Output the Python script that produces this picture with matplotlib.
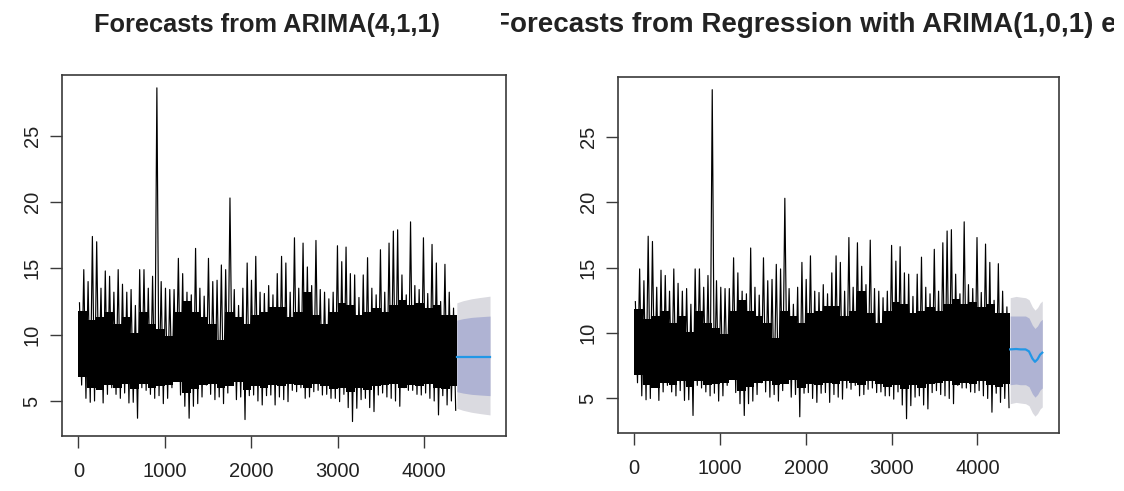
import numpy as np
import matplotlib
matplotlib.use("Agg")
import matplotlib.pyplot as plt
from matplotlib.transforms import Bbox, TransformedBbox

plt.rcParams["font.family"] = ["Liberation Sans", "DejaVu Sans"]

W, H = 1124, 491

# observed series (4380 obs), read off the picture as the highest / lowest
# value inside each block of ~50 observations
n_obs = 4380
bin_hi = [12.4, 14.9, 14.0, 17.4, 17.0, 13.5, 14.8, 14.4, 13.2, 14.9,
          13.8, 13.2, 13.4, 12.2, 14.9, 14.9, 13.5, 14.4, 28.6, 14.0,
          13.5, 13.4, 13.4, 15.75, 14.6, 13.2, 13.0, 16.5, 13.5, 12.9,
          15.75, 14.0, 14.1, 15.25, 14.9, 20.3, 13.4, 12.2, 13.5, 15.4,
          14.1, 15.9, 13.2, 13.1, 13.7, 13.0, 14.6, 15.9, 15.4, 13.2,
          17.3, 13.5, 16.9, 15.1, 13.7, 17.1, 13.4, 13.2, 12.7, 13.2,
          16.7, 15.5, 16.6, 14.6, 14.5, 12.8, 14.5, 15.8, 13.5, 13.0,
          16.4, 13.2, 16.9, 17.8, 17.9, 14.5, 13.0, 18.5, 13.7, 13.4,
          17.3, 13.1, 16.8, 15.4, 12.5, 15.3, 13.2, 12.0]
bin_lo = [6.2, 5.2, 4.9, 5.0, 6.1, 4.85, 5.5, 6.0, 5.5, 5.2,
          5.6, 4.85, 4.9, 3.7, 6.0, 5.8, 5.5, 5.2, 5.4, 4.8,
          5.2, 6.0, 6.5, 5.45, 4.6, 3.7, 4.6, 4.8, 5.3, 6.2,
          5.5, 5.1, 5.3, 4.8, 5.6, 6.8, 5.1, 5.3, 3.6, 5.4,
          5.45, 5.0, 4.7, 5.4, 5.45, 4.7, 5.3, 5.1, 4.95, 5.8,
          5.7, 6.0, 5.2, 5.3, 5.7, 5.8, 5.45, 5.5, 5.2, 5.2,
          4.95, 5.5, 4.5, 3.45, 4.45, 5.1, 5.2, 4.5, 4.2, 5.45,
          5.6, 5.3, 5.2, 5.0, 4.6, 6.0, 5.8, 5.8, 5.5, 5.45,
          5.6, 5.2, 5.0, 3.95, 5.4, 4.7, 5.0, 4.3]

# solid black body of the series, per block of 100 observations
core_hi = [11.8, 11.1, 11.3, 11.7, 10.8, 11.3, 10.1, 11.7, 10.8, 10.4,
           9.9, 11.7, 12.5, 11.7, 11.3, 10.8, 9.6, 11.7, 11.3, 10.8,
           11.5, 11.7, 12.1, 12.1, 11.3, 11.7, 13.2, 11.5, 10.8, 11.7,
           12.4, 12.2, 11.5, 11.7, 12.0, 11.7, 12.2, 12.6, 12.2, 12.4,
           12.0, 12.2, 11.5, 11.5]
core_lo = [6.8, 6.0, 5.8, 6.2, 6.0, 6.3, 5.9, 6.3, 6.0, 6.1,
           6.2, 6.4, 5.6, 5.9, 6.2, 6.3, 6.0, 6.1, 6.4, 5.8,
           6.1, 6.0, 6.2, 6.1, 6.3, 6.2, 6.0, 6.3, 6.1, 5.9,
           6.0, 5.7, 6.0, 5.8, 6.1, 6.2, 6.3, 6.0, 6.2, 6.1,
           6.3, 6.0, 5.9, 6.1]

# Forecasts from ARIMA(4,1,1)
arima_t = [4381, 4450, 4550, 4650, 4765]
arima_mean = [8.35, 8.35, 8.35, 8.35, 8.35]
arima_lo80 = [5.7, 5.6, 5.5, 5.45, 5.4]
arima_hi80 = [11.1, 11.2, 11.3, 11.35, 11.4]
arima_lo95 = [4.45, 4.3, 4.15, 4.05, 3.95]
arima_hi95 = [12.4, 12.55, 12.7, 12.8, 12.9]

# Forecasts from regression with ARIMA(1,0,1) errors
reg_t = [4381, 4450, 4500, 4560, 4600, 4640, 4670, 4700, 4730, 4755]
reg_mean = [8.75, 8.78, 8.75, 8.75, 8.6, 8.05, 7.8, 8.0, 8.35, 8.5]
reg_lo80 = [6.05, 6.1, 6.05, 6.05, 5.9, 5.35, 5.1, 5.3, 5.65, 5.8]
reg_hi80 = [11.3, 11.3, 11.3, 11.3, 11.15, 10.6, 10.35, 10.55, 10.9, 11.05]
reg_lo95 = [4.6, 4.7, 4.65, 4.6, 4.45, 3.9, 3.65, 3.85, 4.2, 4.35]
reg_hi95 = [12.7, 12.8, 12.75, 12.7, 12.55, 12.0, 11.75, 11.95, 12.3, 12.45]

x_ticks = [0, 1000, 2000, 3000, 4000]
y_ticks = [5, 10, 15, 20, 25]

# zigzag through the block maxima / minima
nb = len(bin_hi)
w = n_obs / nb
zig_x = np.empty(2 * nb)
zig_y = np.empty(2 * nb)
zig_x[0::2] = np.arange(nb) * w + 0.25 * w
zig_x[1::2] = np.arange(nb) * w + 0.75 * w
zig_y[0::2] = bin_hi
zig_y[1::2] = bin_lo

# block edges for the body
core_x = np.append(np.arange(len(core_hi)) * 100, n_obs)
core_top = np.append(core_hi, core_hi[-1])
core_bot = np.append(core_lo, core_lo[-1])

fig = plt.figure(figsize=(W / 100, H / 100), dpi=100)
ax1 = fig.add_axes([62 / W, 1 - 436 / H, 444 / W, 361 / H])
ax2 = fig.add_axes([618 / W, 1 - 433 / H, 441 / W, 356 / H])

box_col = "#3a3a3a"


def draw_panel(ax, fc_t, mean, lo80, hi80, lo95, hi95):
    ax.fill_between(core_x, core_bot, core_top, step="post", color="black", lw=0)
    ax.plot(zig_x, zig_y, color="black", lw=0.85)
    ax.fill_between(fc_t, lo95, hi95, color="#DADAE0", lw=0)
    ax.fill_between(fc_t, lo80, hi80, color="#AFB3D3", lw=0)
    ax.plot(fc_t, mean, color="#2297E6", lw=1.6)
    ax.set_xlim(-190, 4950)
    ax.set_ylim(2.36, 29.57)
    ax.set_xticks(x_ticks)
    ax.set_yticks(y_ticks)
    ax.set_xticklabels([str(v) for v in x_ticks])
    ax.set_yticklabels([str(v) for v in y_ticks], rotation=90, va="center")
    ax.tick_params(axis="both", length=8.6, width=1.0, color=box_col,
                   labelsize=14.5, labelcolor="#222222")
    ax.tick_params(axis="x", pad=10)
    ax.tick_params(axis="y", pad=6)
    for s in ax.spines.values():
        s.set_color(box_col)
        s.set_linewidth(1.2)


draw_panel(ax1, arima_t, arima_mean, arima_lo80, arima_hi80, arima_lo95, arima_hi95)
draw_panel(ax2, reg_t, reg_mean, reg_lo80, reg_hi80, reg_lo95, reg_hi95)

fig.text(267 / W, 1 - 32 / H, "Forecasts from ARIMA(4,1,1)", ha="center",
         va="baseline", fontsize=18.3, fontweight="bold", color="#222222")
# the reference title is cut off on both sides by its panel region
t2 = fig.text(493 / W, 1 - 32 / H, "Forecasts from Regression with ARIMA(1,0,1) errors",
              ha="left", va="baseline", fontsize=20.0, fontweight="bold", color="#222222")
t2.set_clip_box(TransformedBbox(Bbox.from_extents(501 / W, 0, 1114 / W, 1), fig.transFigure))
t2.set_clip_on(True)

fig.savefig("out.png", dpi=100)
